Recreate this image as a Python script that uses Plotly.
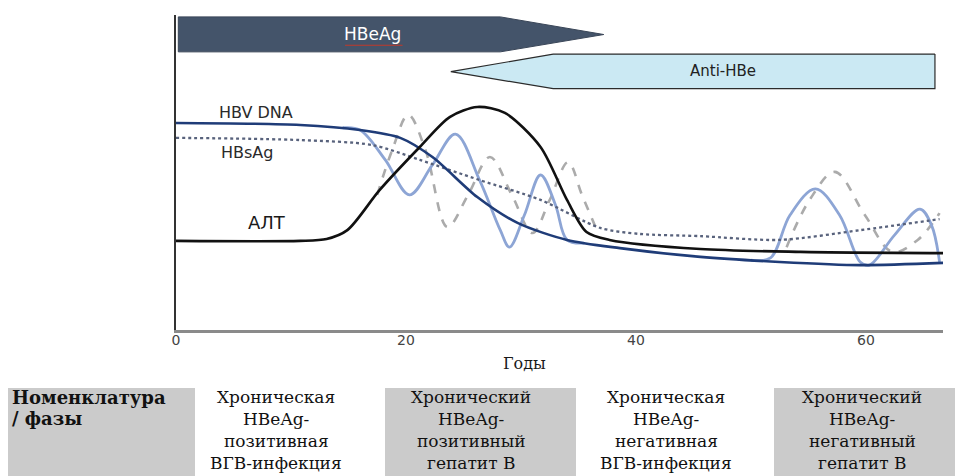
import plotly.graph_objects as go

# ---------------- data (years, relative level 0-100) ----------------
hbv_x = [0, 10.8, 16, 19.5, 22.3, 26.2, 29.7, 34, 38.6, 45.6, 52.5, 59.5, 66.7]
hbv_y = [65.7, 65.1, 63.5, 61, 54.9, 42.2, 34, 28.6, 26, 23.2, 21.6, 20.6, 21.3]

hbv_fluct_x = [14.5, 16, 18.2, 20.3, 22.3, 24.3, 26.4, 28.2, 29.0, 30.3, 31.7, 33.0, 34.0, 35.5,
               None,
               50.0, 51.7, 53.4, 55.6, 57.7, 59.5, 60.3, 62.5, 64.7, 65.7, 66.4]
hbv_fluct_y = [64.2, 63.5, 54, 42.9, 52.4, 62.2, 47.6, 31.7, 26.3, 36.5, 49.2, 39.7, 28.6, 27.6,
               None,
               22.2, 22.9, 36.5, 44.8, 36.5, 21.6, 20.6, 30.2, 38.4, 33.3, 21.6]

hbsag_x = [0, 10.8, 17.1, 21.2, 26.4, 31.7, 36.9, 40.3, 45.6, 52.5, 59.5, 66.4]
hbsag_y = [61, 60.3, 58.7, 54, 47.6, 41.3, 32.4, 30.5, 29.8, 28.6, 31.7, 35.2]

hbsag_fluct_x = [17.5, 18.8, 20.2, 21.7, 23.6, 25.4, 27.3, 29.2, 31.0, 32.5, 34.1, 35.3, 36.6,
                 None,
                 53.1, 55.1, 57.3, 59.9, 62.3, 64.5, 66.4]
hbsag_fluct_y = [42.9, 57.1, 68.3, 57.1, 32.7, 42.9, 54.9, 42.9, 30.8, 41.3, 53.3, 42.9, 31.7,
                 None,
                 26.3, 41.3, 50.2, 36.5, 24.8, 28.6, 37.1]

alt_x = [0, 10.8, 13.1, 14.9, 17.7, 21.2, 23.8, 26.2, 28.6, 31.7, 34.0, 35.7, 37.7, 45.6, 54.3, 66.7]
alt_y = [28.3, 28.3, 28.9, 31.7, 44.4, 58.1, 67.6, 70.8, 68.9, 58.1, 41.3, 31.1, 28.6, 25.7, 24.8, 24.4]

# marker arrows: [start, body end, tip] in years
hbeag_span = [0.2, 28.2, 37.2]
antihbe_span = [66.0, 32.8, 23.9]

x_ticks = [0, 20, 40, 60]
x_title = "Годы"

table_header = ["Номенклатура", "/ фазы"]
table_phases = [
    ["Хроническая", "HBeAg-", "позитивная", "ВГВ-инфекция"],
    ["Хронический", "HBeAg-", "позитивный", "гепатит В"],
    ["Хроническая", "HBeAg-", "негативная", "ВГВ-инфекция"],
    ["Хронический", "HBeAg-", "негативный", "гепатит В"],
]

# ---------------- layout geometry helpers ----------------
W, H = 955, 476
L, R, T, B = 176, 12, 15, 146
PW, PH = W - L - R, H - T - B


def px(xp):
    return (xp - L) / PW


def py(yp):
    return (H - B - yp) / PH


SANS = "DejaVu Sans, Arial"
SERIF = "DejaVu Serif, Times New Roman"

fig = go.Figure()

# arrows (phase markers)
a0, a1, a2 = hbeag_span
fig.add_trace(go.Scatter(
    x=[a0, a1, a2, a1, a0, a0], y=[99.4, 99.4, 93.8, 88.3, 88.3, 99.4],
    mode="lines", fill="toself", fillcolor="#44546a",
    line=dict(color="#3a4658", width=1), hoverinfo="skip", showlegend=False))
b0, b1, b2 = antihbe_span
fig.add_trace(go.Scatter(
    x=[b0, b1, b2, b1, b0, b0], y=[87.6, 87.6, 82.0, 76.6, 76.6, 87.6],
    mode="lines", fill="toself", fillcolor="#cbe9f3",
    line=dict(color="#2b2b2b", width=1.2), hoverinfo="skip", showlegend=False))

# curves
fig.add_trace(go.Scatter(x=hbsag_fluct_x, y=hbsag_fluct_y, mode="lines",
                         line=dict(color="#ababab", width=2.6, dash="dash", shape="spline", smoothing=1.0),
                         connectgaps=False, hoverinfo="skip", showlegend=False))
fig.add_trace(go.Scatter(x=hbv_fluct_x, y=hbv_fluct_y, mode="lines",
                         line=dict(color="#8da5d5", width=2.8, shape="spline", smoothing=1.0),
                         connectgaps=False, hoverinfo="skip", showlegend=False))
fig.add_trace(go.Scatter(x=hbsag_x, y=hbsag_y, mode="lines",
                         line=dict(color="#58627c", width=2.3, dash="dot", shape="spline", smoothing=0.8),
                         hoverinfo="skip", showlegend=False))
fig.add_trace(go.Scatter(x=hbv_x, y=hbv_y, mode="lines",
                         line=dict(color="#1f3c78", width=2.6, shape="spline", smoothing=0.8),
                         hoverinfo="skip", showlegend=False))
fig.add_trace(go.Scatter(x=alt_x, y=alt_y, mode="lines",
                         line=dict(color="#111111", width=2.6, shape="spline", smoothing=0.8),
                         hoverinfo="skip", showlegend=False))

ann = []
# arrow texts
ann.append(dict(x=17.1, y=93.9, xref="x", yref="y", text="HBeAg", showarrow=False,
                font=dict(family=SANS, size=17, color="white")))
ann.append(dict(x=47.6, y=82.2, xref="x", yref="y", text="Anti-HBe", showarrow=False,
                font=dict(family=SANS, size=15, color="#222222")))
# curve labels
ann.append(dict(x=7.0, y=69, xref="x", yref="y", text="HBV DNA", showarrow=False,
                font=dict(family=SANS, size=16, color="#2a2a2a")))
ann.append(dict(x=6.2, y=56.2, xref="x", yref="y", text="HBsAg", showarrow=False,
                font=dict(family=SANS, size=16, color="#2a2a2a")))
ann.append(dict(x=7.9, y=34, xref="x", yref="y", text="АЛТ", showarrow=False,
                font=dict(family=SANS, size=18, color="#1a1a1a")))
# axis title
ann.append(dict(x=px(524), y=py(363), xref="paper", yref="paper", xanchor="center", yanchor="middle",
                text=x_title, showarrow=False,
                font=dict(family=SERIF, size=16, color="#1a1a1a")))

shapes = []
# red spell-check underline under HBeAg
shapes.append(dict(type="line", xref="x", yref="y", x0=14.7, x1=19.7, y0=90.4, y1=90.4,
                   line=dict(color="#c0392b", width=1.2)))

# table
col_edges = [8, 195, 385, 576, 774, 955]
table_top, table_bot = 388, 476
line_y = [397, 419, 441, 463]
for i in range(5):
    if i % 2 == 0:
        shapes.append(dict(type="rect", xref="paper", yref="paper",
                           x0=px(col_edges[i]), x1=px(col_edges[i + 1]),
                           y0=py(table_bot), y1=py(table_top),
                           fillcolor="#cbcbcb", line=dict(width=0), layer="below"))

for ly, t in zip(line_y, table_header):
    ann.append(dict(x=px(10), y=py(ly), xref="paper", yref="paper", xanchor="left", yanchor="middle",
                    text="<b>" + t + "</b>", showarrow=False,
                    font=dict(family=SERIF, size=18, color="#111111")))
text_centers = [276, 471, 666, 862]
for c, lines in zip(text_centers, table_phases):
    for ly, t in zip(line_y, lines):
        ann.append(dict(x=px(c), y=py(ly), xref="paper", yref="paper", xanchor="center", yanchor="middle",
                        text=t, showarrow=False,
                        font=dict(family=SERIF, size=17, color="#111111")))

fig.update_layout(
    width=W, height=H,
    margin=dict(l=L, r=R, t=T, b=B, pad=0),
    paper_bgcolor="white", plot_bgcolor="white",
    xaxis=dict(range=[0, 66.7], tickvals=x_ticks, ticktext=[str(v) for v in x_ticks],
               showgrid=False, zeroline=False, showline=True, linecolor="#8a8a8a", linewidth=2.5,
               ticks="", ticklabelstandoff=-5,
               tickfont=dict(family=SANS, size=14, color="#444444"),
               fixedrange=True),
    yaxis=dict(range=[0, 100], showticklabels=False, showgrid=False, zeroline=False,
               showline=True, linecolor="#333333", linewidth=1.5, ticks="", fixedrange=True),
    annotations=ann, shapes=shapes,
)

fig.write_html("out.html", config={"displayModeBar": False},
               post_script="document.body.style.margin='0px';")
